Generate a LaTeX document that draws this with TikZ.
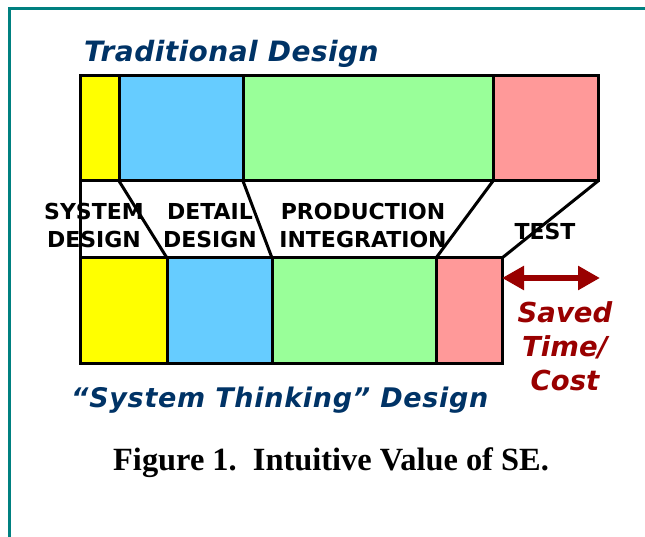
\documentclass[tikz,border=0pt]{standalone}
\usepackage{fontspec}
\setmainfont{Liberation Serif}
\newfontfamily\dejavu{DejaVu Sans}
\newfontfamily\dejavuT{DejaVu Sans}[LetterSpace=1.6]
\newfontfamily\dejavuS{DejaVu Sans}[LetterSpace=2.6]
\usetikzlibrary{arrows.meta}
\definecolor{teal1}{RGB}{0,128,128}
\definecolor{navy1}{RGB}{0,51,102}
\definecolor{dred}{RGB}{153,0,0}
\definecolor{cyellow}{RGB}{255,255,0}
\definecolor{cblue}{RGB}{102,204,255}
\definecolor{cgreen}{RGB}{153,255,153}
\definecolor{cpink}{RGB}{255,153,153}
\tikzset{
  seg/.style={draw=black, line width=3pt, inner sep=0pt, outer sep=0pt, anchor=north west},
  link/.style={draw=black, line width=3pt},
  phase/.style={font=\dejavu\bfseries\fontsize{22}{28}\selectfont, align=center, inner sep=0pt, anchor=north},
  heading/.style={text=navy1, inner sep=0pt, anchor=base west},
  saved/.style={font=\dejavu\bfseries\itshape\fontsize{27.5}{34}\selectfont, text=dred, align=center, inner sep=0pt, anchor=north},
}
\begin{document}
\begin{tikzpicture}[x=1pt, y=-1pt]
\useasboundingbox (0,0) rectangle (645,537);
% frame
\draw[teal1, line width=3pt] (9.5,537) -- (9.5,8.5) -- (645,8.5);
% top bar
\node[seg, fill=cyellow, minimum width=39pt, minimum height=105pt] (t1) at (80,76) {};
\node[seg, fill=cblue, minimum width=124pt, minimum height=105pt] (t2) at (119,76) {};
\node[seg, fill=cgreen, minimum width=250pt, minimum height=105pt] (t3) at (243,76) {};
\node[seg, fill=cpink, minimum width=105pt, minimum height=105pt] (t4) at (493,76) {};
% bottom bar
\node[seg, fill=cyellow, minimum width=87pt, minimum height=105pt] (b1) at (80,258) {};
\node[seg, fill=cblue, minimum width=105pt, minimum height=105pt] (b2) at (167,258) {};
\node[seg, fill=cgreen, minimum width=164pt, minimum height=105pt] (b3) at (272,258) {};
\node[seg, fill=cpink, minimum width=66pt, minimum height=105pt] (b4) at (436,258) {};
% connectors
\draw[link] (t1.south west) -- (b1.north west);
\draw[link] (t1.south east) -- (b1.north east);
\draw[link] (t2.south east) -- (b2.north east);
\draw[link] (t3.south east) -- (b3.north east);
\draw[link] (t4.south east) -- (b4.north east);
% phase labels
\node[phase] (l1) at (94,203) {SYSTEM\\DESIGN};
\node[phase] (l2) at (210,203) {DETAIL\\DESIGN};
\node[phase] (l3) at (363,203) {PRODUCTION\\INTEGRATION};
\node[phase] (l4) at (545,223) {TEST};
% headings
\node[heading, font=\dejavuT\bfseries\itshape\fontsize{28}{32}\selectfont] (h1) at (84,62) {Traditional Design};
\node[heading, font=\dejavuS\bfseries\itshape\fontsize{27}{30}\selectfont] (h2) at (71,407) {“System Thinking” Design};
% saved
\coordinate (arrend) at (600,278);
\draw[dred, line width=6pt, {Triangle[length=22pt,width=23pt]}-{Triangle[length=22pt,width=23pt]}] (b4.east |- arrend) -- (arrend);
\node[saved] (sv) at (565,301) {Saved\\Time/\\Cost};
% caption
\node[font=\bfseries\fontsize{32.4}{38}\selectfont, inner sep=0pt, anchor=base west] (cap) at (113,470) {Figure 1.\ \ Intuitive Value of SE.};
\end{tikzpicture}
\end{document}
